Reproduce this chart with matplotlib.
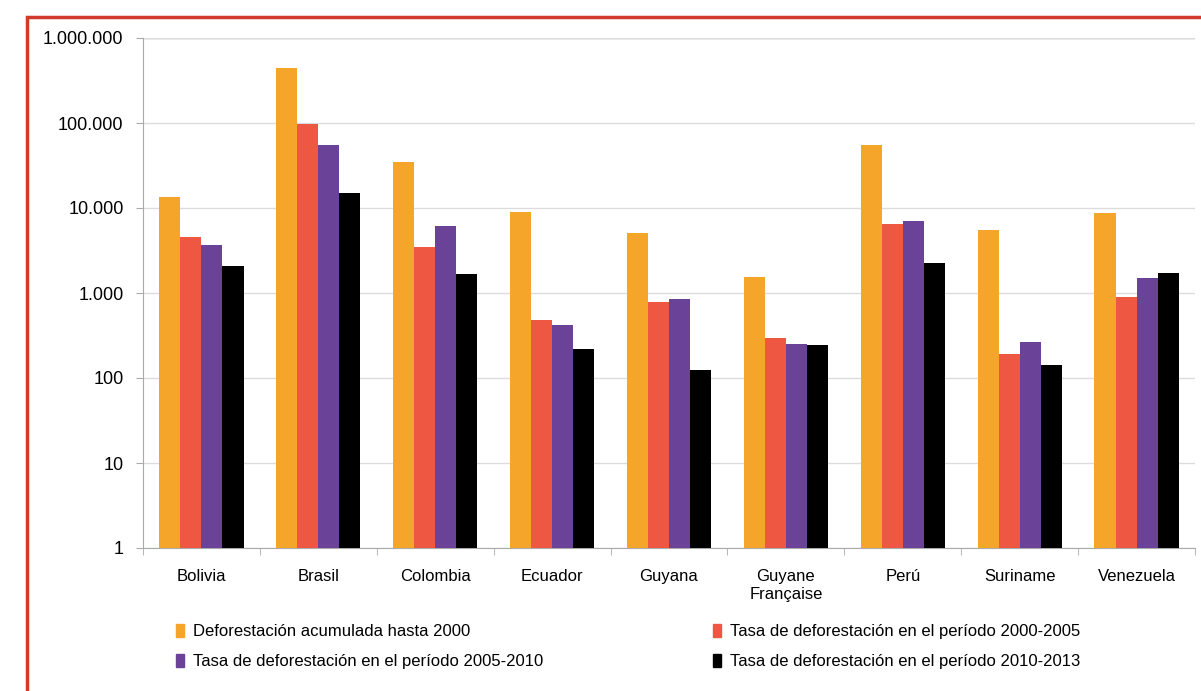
import numpy as np
import matplotlib.pyplot as plt
from matplotlib.patches import Rectangle, Patch
from matplotlib.ticker import FuncFormatter, FixedLocator

countries = ['Bolivia', 'Brasil', 'Colombia', 'Ecuador', 'Guyana',
             'Guyane\nFrançaise', 'Perú', 'Suriname', 'Venezuela']
acum_2000 = [13500, 447000, 34800, 8950, 5100, 1540, 55000, 5500, 8700]
tasa_2000_2005 = [4550, 97600, 3470, 480, 780, 295, 6500, 190, 900]
tasa_2005_2010 = [3670, 55000, 6150, 420, 850, 250, 7000, 265, 1500]
tasa_2010_2013 = [2080, 15000, 1680, 220, 125, 245, 2250, 143, 1720]

series = [acum_2000, tasa_2000_2005, tasa_2005_2010, tasa_2010_2013]
labels = ['Deforestación acumulada hasta 2000',
          'Tasa de deforestación en el período 2000-2005',
          'Tasa de deforestación en el período 2005-2010',
          'Tasa de deforestación en el período 2010-2013']
colors = ['#F5A52A', '#EE5843', '#6A4399', '#000000']

plt.rcParams['font.family'] = ['Liberation Sans', 'DejaVu Sans']

fig = plt.figure(figsize=(12.01, 6.91), dpi=100)
ax = fig.add_axes([143 / 1201, 1 - 548 / 691, (1195 - 143) / 1201, (548 - 38) / 691])

x = np.arange(len(countries))
w = 0.18
for i, (vals, c) in enumerate(zip(series, colors)):
    ax.bar(x + (i - 1.5) * w, vals, w, color=c, zorder=3)

ax.set_yscale('log')
ax.set_ylim(1, 1e6)
ax.set_xlim(-0.5, len(countries) - 0.5)
ax.yaxis.set_major_locator(FixedLocator([10 ** k for k in range(7)]))
ax.yaxis.set_minor_locator(FixedLocator([]))
ax.yaxis.set_major_formatter(FuncFormatter(lambda v, p: f'{int(round(v)):,}'.replace(',', '.')))
ax.grid(axis='y', color='#dcdcdc', lw=1, zorder=0)

ax.set_xticks(x)
ax.set_xticklabels(countries, fontsize=12, linespacing=1.3)
ax.set_xticks(np.arange(len(countries) + 1) - 0.5, minor=True)
ax.tick_params(axis='x', which='major', length=0, pad=15)
ax.tick_params(axis='x', which='minor', length=5, color='#aaaaaa')
ax.tick_params(axis='y', length=5, color='#aaaaaa', labelsize=13, pad=9)

for s in ['top', 'right']:
    ax.spines[s].set_visible(False)
for s in ['left', 'bottom']:
    ax.spines[s].set_color('#aaaaaa')
ax.axhline(1e6, color='#aaaaaa', lw=1, zorder=1)

legend_font = {'size': 12}
handles = [Patch(color=c) for c in colors]
common = dict(loc='upper left', frameon=False, prop=legend_font, handlelength=0.5,
              handleheight=0.85, handletextpad=0.5, labelspacing=0.85)
fig.legend([handles[0], handles[2]], [labels[0], labels[2]],
           bbox_to_anchor=(161 / 1201, 1 - 609 / 691), **common)
fig.legend([handles[1], handles[3]], [labels[1], labels[3]],
           bbox_to_anchor=(698 / 1201, 1 - 609 / 691), **common)

fig.patches.append(Rectangle((27 / 1201, -0.1), 1.2, 1 - 17 / 691 + 0.1,
                             transform=fig.transFigure, fill=False,
                             edgecolor='#D23A2E', lw=2.5))

fig.savefig('out.png', dpi=100)
